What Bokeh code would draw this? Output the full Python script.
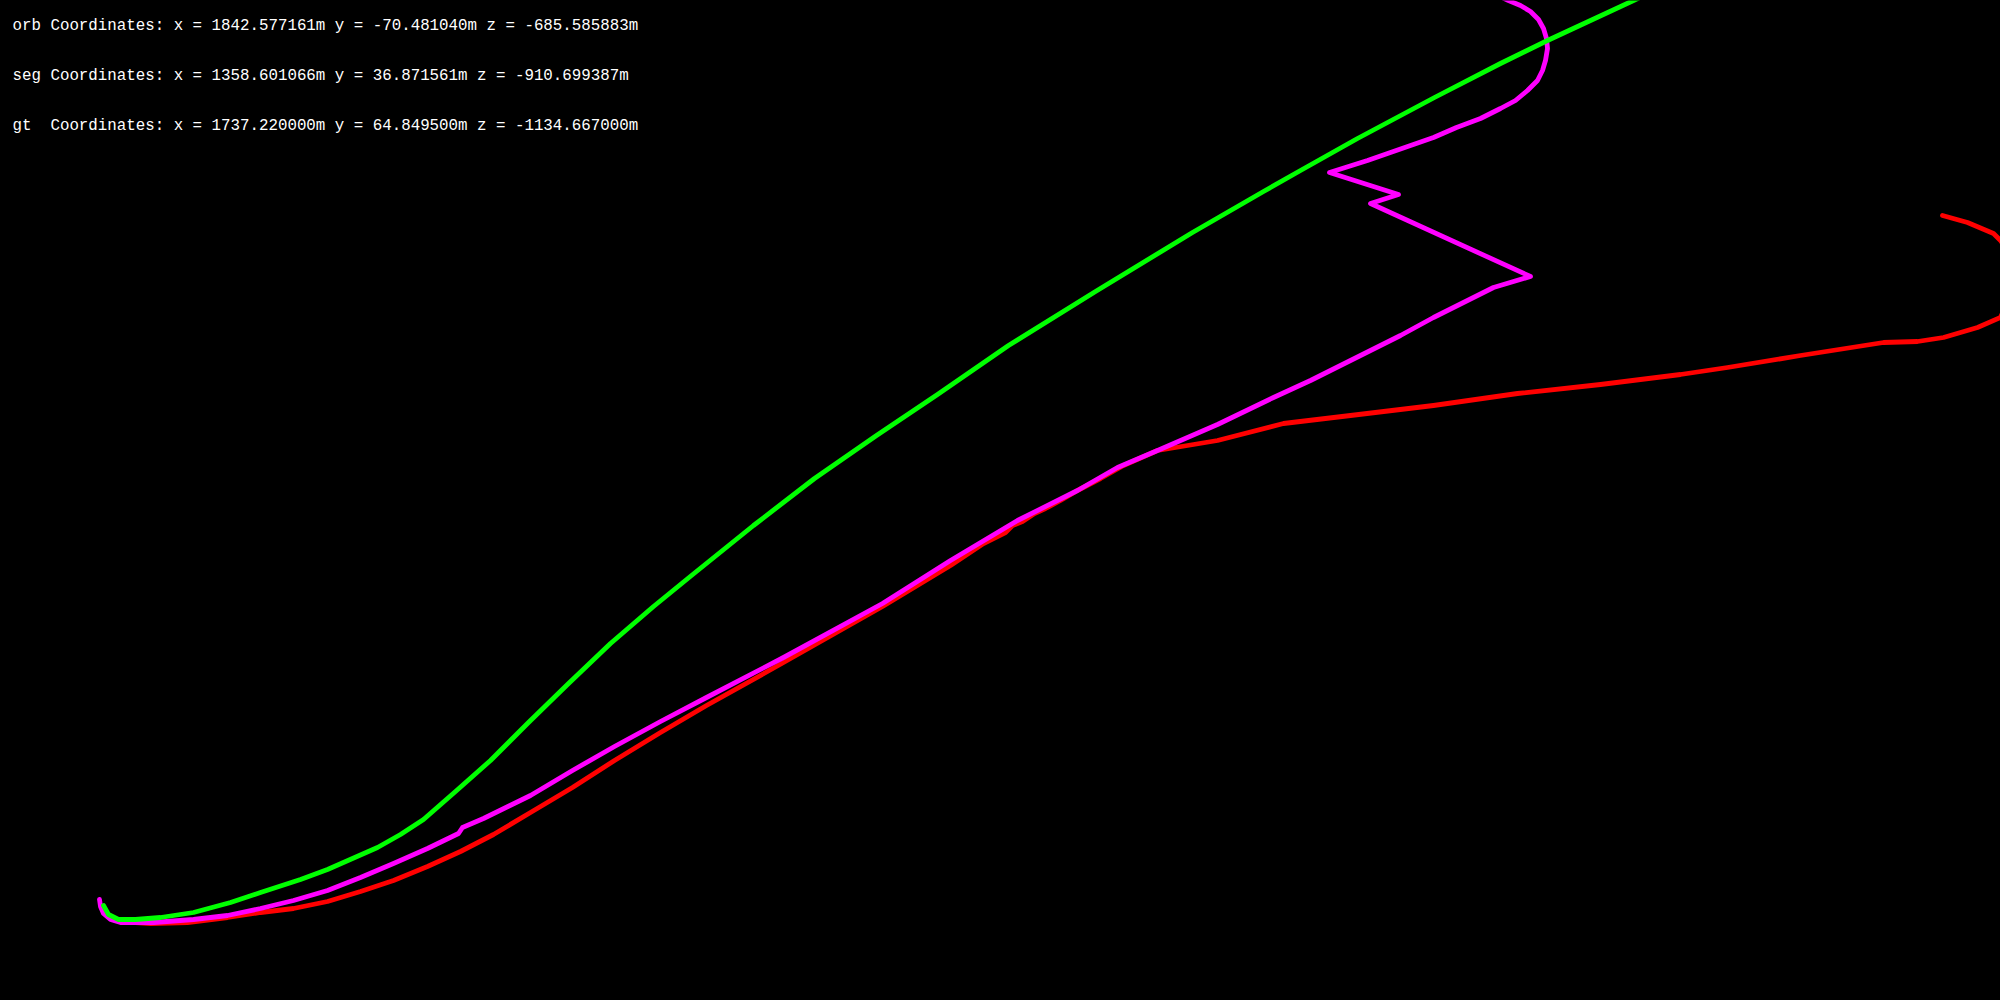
from bokeh.plotting import figure
from bokeh.models import Range1d
from bokeh.core.properties import value
from bokeh.embed import file_html
from bokeh.resources import INLINE

# Projected trajectory coordinates (screen units of the viewer)
orb_x = [103, 108, 118, 135, 160, 193, 230, 260, 300, 327, 377, 400, 423, 455, 490, 528, 567, 610,
         653, 691, 753, 814, 876, 937, 1008, 1095, 1192, 1263, 1300, 1357, 1434, 1500, 1547, 1633, 1650]
orb_y = [905, 914, 919, 919, 917, 912, 902, 892, 879, 869, 847, 834, 819, 791, 760, 722, 684, 643,
         606, 575, 525, 478, 435, 394, 345, 291, 232, 191, 170, 138, 97, 63, 40, 0, -8]

seg_x = [99, 100, 103, 110, 120, 153, 193, 227, 260, 293, 327, 360, 393, 427, 458, 462, 483, 530,
         572, 614, 660, 706, 783, 882, 950, 1017, 1077, 1117, 1157, 1217, 1273, 1310, 1350, 1400, 1433,
         1493, 1530, 1370, 1398, 1329, 1367, 1433, 1456, 1480, 1500, 1515, 1527, 1537, 1542, 1545,
         1547, 1546, 1543, 1538, 1530, 1520, 1508, 1495]
seg_y = [899, 906, 913, 919, 922, 922, 919, 915, 908, 900, 890, 877, 863, 848, 833, 827, 818, 795,
         770, 746, 721, 697, 657, 603, 560, 520, 490, 467, 450, 424, 397, 380, 360, 335, 317,
         287, 276, 203, 194, 172, 160, 137, 127, 118, 108, 100, 90, 80, 70, 60,
         48, 38, 28, 19, 11, 5, 0, -6]

gt_x = [108, 120, 150, 187, 227, 260, 293, 327, 360, 393, 427, 460, 493, 530, 572, 614, 660, 706,
        783, 882, 950, 983, 1005, 1012, 1022, 1034, 1045, 1060, 1077, 1100, 1123, 1157, 1217, 1283,
        1350, 1433, 1517, 1600, 1680, 1727, 1800, 1883, 1917, 1943, 1977, 2000, 2012, 2010, 2000,
        1993, 1967, 1942]
gt_y = [916, 921, 923, 922, 917, 912, 908, 901, 891, 880, 866, 851, 834, 812, 787, 760, 732, 705,
        662, 606, 565, 543, 532, 525, 521, 513, 508, 500, 490, 478, 465, 450, 440, 423,
        415, 405, 393, 384, 374, 367, 355, 342, 341, 337, 327, 317, 290, 255, 240,
        233, 222, 215]

labels = [
    "orb Coordinates: x = 1842.577161m y = -70.481040m z = -685.585883m",
    "seg Coordinates: x = 1358.601066m y = 36.871561m z = -910.699387m",
    "gt\u00a0 Coordinates: x = 1737.220000m y = 64.849500m z = -1134.667000m",
]
label_x = [12, 12, 12]
label_y = [25, 75, 125]

p = figure(width=2000, height=1000, output_backend="svg", toolbar_location=None,
           x_range=Range1d(0, 2000), y_range=Range1d(1000, 0),
           min_border=0, background_fill_color="black", border_fill_color="black")
p.axis.visible = False
p.grid.visible = False
p.outline_line_color = None

p.line(gt_x, gt_y, line_color="#ff0000", line_width=4.8, line_join="round", line_cap="round")
p.line(seg_x, seg_y, line_color="#ff00ff", line_width=4.8, line_join="round", line_cap="round")
p.line(orb_x, orb_y, line_color="#00ff00", line_width=4.8, line_join="round", line_cap="round")

p.text(x=label_x, y=label_y, text=labels, text_color="white",
       text_font=value("Liberation Mono"), text_font_size="15.8px",
       text_baseline="middle", text_align="left")

html = file_html(p, INLINE)
html = html.replace("<body>", '<body style="background:black;margin:0;">', 1)
html = html.replace("<html", '<html style="background:black;"', 1)
open("out.html", "w").write(html)
